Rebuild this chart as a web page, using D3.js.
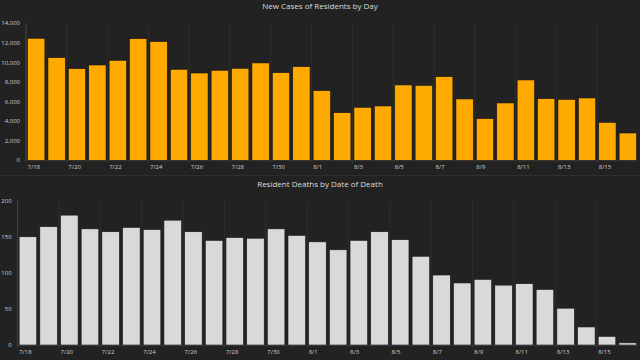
<!DOCTYPE html>
<html><head><meta charset="utf-8">
<script src="https://cdn.jsdelivr.net/npm/d3@7"></script>
<style>
html,body{margin:0;padding:0;background:#222222;}
svg{display:block;}
text{font-family:"Open Sans","Noto Sans",sans-serif;}
</style></head>
<body>
<svg id="c" width="640" height="360"></svg>
<script>
const dates = ["7/18","7/19","7/20","7/21","7/22","7/23","7/24","7/25","7/26","7/27","7/28","7/29","7/30","7/31","8/1","8/2","8/3","8/4","8/5","8/6","8/7","8/8","8/9","8/10","8/11","8/12","8/13","8/14","8/15","8/16"];
const cases = [12470,10490,9370,9740,10220,12430,12130,9300,8920,9200,9400,9950,8960,9570,7120,4870,5420,5550,7700,7660,8550,6270,4260,5860,8210,6300,6230,6370,3880,2790];
const deaths = [150,164,180,161,157,163,160,173,157,145,149,148,161,152,143,132,145,157,146,123,97,86,91,83,85,77,51,25,12,3];
const casesTicks = [0,2000,4000,6000,8000,10000,12000,14000];
const deathsTicks = [0,50,100,150,200];
const labelDates = dates.filter((d,i)=>i%2===0);

const svg = d3.select("#c");
svg.append("rect").attr("width",640).attr("height",360).attr("fill","#222222");

function panel(cfg){
  const g = svg.append("g");
  const x = d3.scaleBand().domain(dates).range([cfg.x0, cfg.x1]).paddingInner(0.15).paddingOuter(0.075);
  const y = d3.scaleLinear().domain([0, cfg.max]).range([cfg.y0, cfg.y1]);
  const half = x.step()*x.paddingInner()/2;
  g.selectAll("line.vg").data(labelDates).join("line")
    .attr("x1", d=>x(d)-half).attr("x2", d=>x(d)-half)
    .attr("y1", cfg.y1).attr("y2", cfg.y0+3)
    .attr("stroke","#2e2e2e").attr("stroke-width",1);
  g.selectAll("rect.bar").data(cfg.values).join("rect")
    .attr("x",(d,i)=>x(dates[i])).attr("width",x.bandwidth())
    .attr("y",d=>y(d)).attr("height",d=>cfg.y0-y(d))
    .attr("fill",cfg.color).attr("stroke","#151515").attr("stroke-width",0.6);
  g.append("line").attr("x1",cfg.x0).attr("x2",cfg.x0).attr("y1",cfg.y1).attr("y2",cfg.y0)
    .attr("stroke","#4a4a4a").attr("stroke-width",0.8);
  g.append("line").attr("x1",cfg.x0-2).attr("x2",cfg.x1).attr("y1",cfg.y0+0.5).attr("y2",cfg.y0+0.5)
    .attr("stroke","#3e3e3e").attr("stroke-width",0.8);
  g.selectAll("text.yt").data(cfg.ticks).join("text")
    .attr("x",cfg.x0-6).attr("y",d=>y(d)).attr("dy","0.35em")
    .attr("text-anchor","end").attr("font-size",6).attr("fill","#cfcfcf")
    .text(d=>d3.format(",")(d));
  g.selectAll("text.xt").data(labelDates).join("text")
    .attr("x",d=>x(d)).attr("y",cfg.y0+8.5)
    .attr("text-anchor","start").attr("font-size",6).attr("fill","#cfcfcf")
    .text(d=>d);
  g.append("text").attr("x",320).attr("y",cfg.ty).attr("text-anchor","middle")
    .attr("font-size",8).attr("fill","#dcdcdc").text(cfg.title);
}

panel({x0:26,x1:638,y0:160.3,y1:23.3,max:14000,values:cases,ticks:casesTicks,color:"#FFAA00",title:"New Cases of Residents by Day",ty:9});
svg.append("line").attr("x1",0).attr("x2",640).attr("y1",175.5).attr("y2",175.5).attr("stroke","#303030").attr("stroke-width",1);
panel({x0:17.6,x1:638,y0:345,y1:200.7,max:200,values:deaths,ticks:deathsTicks,color:"#D9D9D9",title:"Resident Deaths by Date of Death",ty:186.5});
</script>
</body></html>
